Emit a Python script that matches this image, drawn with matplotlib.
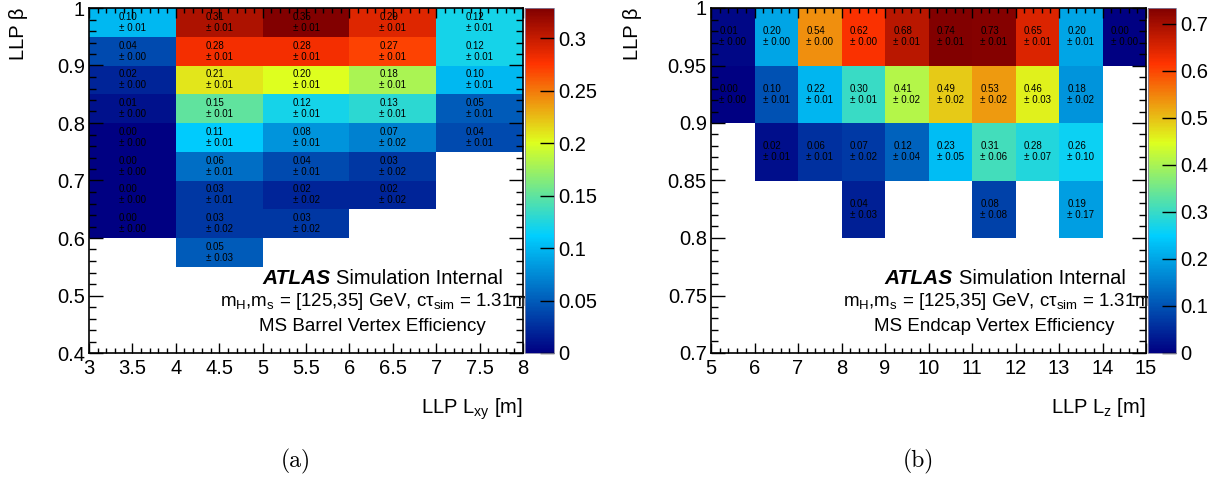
import numpy as np
import matplotlib
matplotlib.use("Agg")
import matplotlib.pyplot as plt
from matplotlib.colors import LinearSegmentedColormap, Normalize
from matplotlib.ticker import MultipleLocator, FuncFormatter

plt.rcParams['font.family'] = ['Liberation Sans', 'DejaVu Sans']
plt.rcParams['mathtext.fontset'] = 'custom'
plt.rcParams['mathtext.rm'] = 'Liberation Sans'
plt.rcParams['mathtext.it'] = 'Liberation Sans:italic'
plt.rcParams['mathtext.bf'] = 'Liberation Sans:bold'

# ---------------- MS barrel: efficiency vs (L_xy, beta) ----------------
lxy_edges = [3, 4, 5, 6, 7, 8]
beta_edges_barrel = [0.55, 0.60, 0.65, 0.70, 0.75, 0.80, 0.85, 0.90, 0.95, 1.00]
# rows from the highest beta bin (0.95-1.00) downwards; None = empty bin
barrel_eff = [
    [0.10, 0.31, 0.35, 0.29, 0.12],
    [0.04, 0.28, 0.28, 0.27, 0.12],
    [0.02, 0.21, 0.20, 0.18, 0.10],
    [0.01, 0.15, 0.12, 0.13, 0.05],
    [0.00, 0.11, 0.08, 0.07, 0.04],
    [0.00, 0.06, 0.04, 0.03, None],
    [0.00, 0.03, 0.02, 0.02, None],
    [0.00, 0.03, 0.03, None, None],
    [None, 0.05, None, None, None],
]
barrel_err = [
    [0.01, 0.01, 0.01, 0.01, 0.01],
    [0.00, 0.01, 0.01, 0.01, 0.01],
    [0.00, 0.01, 0.01, 0.01, 0.01],
    [0.00, 0.01, 0.01, 0.01, 0.01],
    [0.00, 0.01, 0.01, 0.02, 0.01],
    [0.00, 0.01, 0.01, 0.02, None],
    [0.00, 0.01, 0.02, 0.02, None],
    [0.00, 0.02, 0.02, None, None],
    [None, 0.03, None, None, None],
]
barrel_zmax = 0.329

# ---------------- MS endcap: efficiency vs (L_z, beta) ----------------
lz_edges = [5, 6, 7, 8, 9, 10, 11, 12, 13, 14, 15]
beta_edges_endcap = [0.80, 0.85, 0.90, 0.95, 1.00]
endcap_eff = [
    [0.01, 0.20, 0.54, 0.62, 0.68, 0.74, 0.73, 0.65, 0.20, 0.00],
    [0.00, 0.10, 0.22, 0.30, 0.41, 0.49, 0.53, 0.46, 0.18, None],
    [None, 0.02, 0.06, 0.07, 0.12, 0.23, 0.31, 0.28, 0.26, None],
    [None, None, None, 0.04, None, None, 0.08, None, 0.19, None],
]
endcap_err = [
    [0.00, 0.00, 0.00, 0.00, 0.01, 0.01, 0.01, 0.01, 0.01, 0.00],
    [0.00, 0.01, 0.01, 0.01, 0.02, 0.02, 0.02, 0.03, 0.02, None],
    [None, 0.01, 0.01, 0.02, 0.04, 0.05, 0.06, 0.07, 0.10, None],
    [None, None, None, 0.03, None, None, 0.08, None, 0.17, None],
]
endcap_zmax = 0.734

# rainbow palette (blue -> cyan -> yellow -> red -> dark red)
stops = [0.00, 0.34, 0.61, 0.84, 1.00]
reds = [0.00, 0.00, 0.87, 1.00, 0.51]
greens = [0.00, 0.81, 1.00, 0.20, 0.00]
blues = [0.51, 1.00, 0.12, 0.00, 0.00]
palette = LinearSegmentedColormap.from_list(
    "rainbow5", [(s, (r, g, b)) for s, r, g, b in zip(stops, reds, greens, blues)], N=255)

W, H = 1221, 480
fig = plt.figure(figsize=(W / 100, H / 100), dpi=100)


def frac(x0, y0, x1, y1):
    return [x0 / W, 1 - y1 / H, (x1 - x0) / W, (y1 - y0) / H]


TICK_FS = 14.5
fmt = FuncFormatter(lambda v, p: f"{v:g}")
PARAM_LINE = ("m$_\\mathregular{H}$,m$_\\mathregular{s}$ = [125,35] GeV, "
              "c\u03c4$_\\mathregular{sim}$ = 1.31m")


def to_grid(rows):
    arr = np.array([[np.nan if v is None else v for v in r] for r in rows], dtype=float)
    return np.ma.masked_invalid(arr[::-1])


def draw_panel(ax_rect, cb_rect, xedges, yedges, eff, err, zmax,
               xlim, ylim, xmaj, xmin, ymaj, ymin, cbmaj, xlabel, note, ylab_x):
    ax = fig.add_axes(frac(*ax_rect))
    cax = fig.add_axes(frac(*cb_rect))
    Z = to_grid(eff)
    E = np.array([[np.nan if v is None else v for v in r] for r in err], dtype=float)[::-1]
    norm = Normalize(vmin=0, vmax=zmax, clip=True)
    mesh = ax.pcolormesh(xedges, yedges, Z, cmap=palette, norm=norm,
                         edgecolors='none', linewidth=0)
    xc = 0.5 * (np.array(xedges[:-1]) + np.array(xedges[1:]))
    yc = 0.5 * (np.array(yedges[:-1]) + np.array(yedges[1:]))
    for i, y in enumerate(yc):
        for j, x in enumerate(xc):
            if np.ma.is_masked(Z[i, j]):
                continue
            ax.text(x, y, f"{Z[i, j]:.2f}\n\u00b1 {E[i, j]:.2f}", ha='center', va='center',
                    multialignment='left', fontsize=7, linespacing=1.15, color='black')
    ax.set_xlim(*xlim)
    ax.set_ylim(*ylim)
    ax.xaxis.set_major_locator(MultipleLocator(xmaj))
    ax.xaxis.set_minor_locator(MultipleLocator(xmin))
    ax.yaxis.set_major_locator(MultipleLocator(ymaj))
    ax.yaxis.set_minor_locator(MultipleLocator(ymin))
    ax.xaxis.set_major_formatter(fmt)
    ax.yaxis.set_major_formatter(fmt)
    ax.tick_params(axis='x', which='major', direction='in', top=True, length=7, width=1,
                   labelsize=TICK_FS, pad=4)
    ax.tick_params(axis='x', which='minor', direction='in', top=True, length=3.5, width=1)
    ax.tick_params(axis='y', which='major', direction='in', right=True, length=10, width=1,
                   labelsize=TICK_FS, pad=3)
    ax.tick_params(axis='y', which='minor', direction='in', right=True, length=5, width=1)
    for s in ax.spines.values():
        s.set_linewidth(1.2)
    ax.set_ylabel("LLP \u03b2", fontsize=TICK_FS, loc='top')
    ax.yaxis.set_label_coords(ylab_x, 1.0)
    ax.set_xlabel(xlabel, fontsize=TICK_FS, loc='right')
    ax.xaxis.set_label_coords(1.0, -0.125)

    ax.text(0.556, 0.215, "ATLAS", transform=ax.transAxes, ha='right', va='center',
            fontsize=15, fontweight='bold', fontstyle='italic')
    ax.text(0.570, 0.215, "Simulation Internal", transform=ax.transAxes, ha='left',
            va='center', fontsize=14.5)
    ax.text(0.657, 0.150, PARAM_LINE, transform=ax.transAxes, ha='center', va='center',
            fontsize=13.5)
    ax.text(0.652, 0.078, note, transform=ax.transAxes, ha='center', va='center',
            fontsize=13.5)

    cb = fig.colorbar(mesh, cax=cax)
    cb.outline.set_linewidth(0.6)
    cb.outline.set_edgecolor('#8080a0')
    cb.locator = MultipleLocator(cbmaj)
    cb.formatter = fmt
    cb.update_ticks()
    cax.minorticks_off()
    cax.tick_params(axis='y', which='major', direction='in', length=10, width=1,
                    labelsize=TICK_FS, pad=3, right=True, left=False)
    return ax


draw_panel((89, 8, 523, 353), (525, 8, 554, 353), lxy_edges, beta_edges_barrel,
           barrel_eff, barrel_err, barrel_zmax, (3, 8), (0.4, 1.0),
           0.5, 0.1, 0.1, 0.02, 0.05, r"LLP L$_\mathregular{xy}$ [m]",
           "MS Barrel Vertex Efficiency", -0.14)
draw_panel((711, 8, 1146, 353), (1148, 8, 1176, 353), lz_edges, beta_edges_endcap,
           endcap_eff, endcap_err, endcap_zmax, (5, 15), (0.7, 1.0),
           1, 0.2, 0.05, 0.01, 0.1, r"LLP L$_\mathregular{z}$ [m]",
           "MS Endcap Vertex Efficiency", -0.158)

fig.text(296 / W, 1 - 461 / H, "(a)", ha='center', va='center', fontsize=17,
         family=['cmr10', 'DejaVu Serif'])
fig.text(918 / W, 1 - 461 / H, "(b)", ha='center', va='center', fontsize=17,
         family=['cmr10', 'DejaVu Serif'])

fig.savefig("out.png", dpi=100)
